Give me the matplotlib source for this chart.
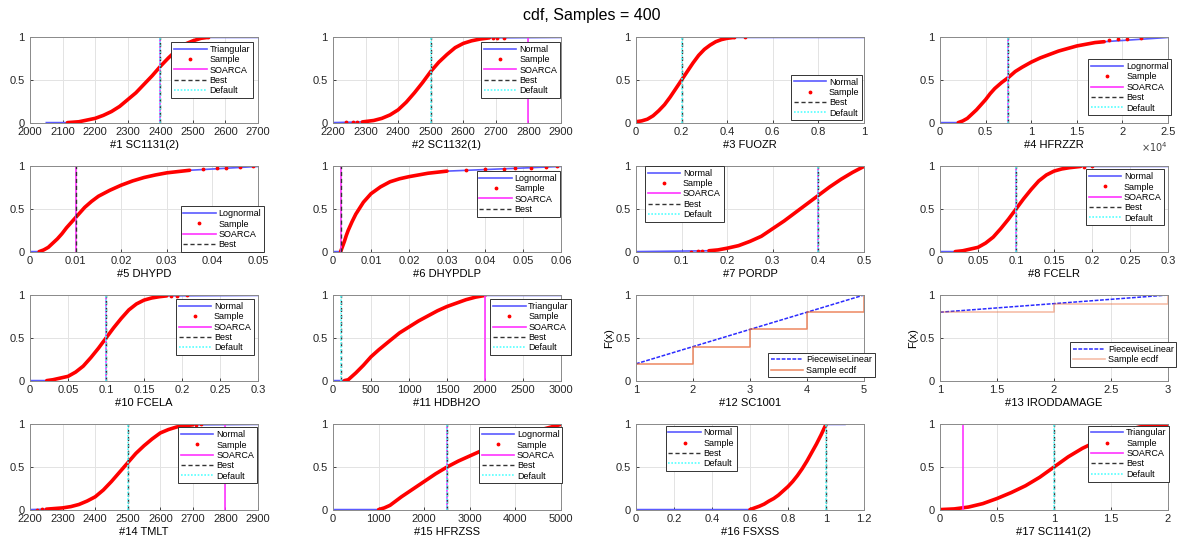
import matplotlib.pyplot as plt
from matplotlib.ticker import FuncFormatter, MultipleLocator

plt.rcParams['font.family'] = ['Liberation Sans', 'DejaVu Sans']

# ---- values ----
# #1 SC1131(2), Triangular
p1_x = [2115, 2150, 2175, 2200, 2225, 2250, 2275, 2300, 2325, 2350, 2375, 2400, 2425, 2450, 2475, 2500, 2525, 2545]
p1_F = [0.0, 0.01, 0.03, 0.05, 0.085, 0.13, 0.19, 0.27, 0.35, 0.45, 0.55, 0.66, 0.76, 0.85, 0.92, 0.96, 0.99, 1.0]
p1_tx, p1_tF = [2115, 2545], [0.0, 1.0]
# #2 SC1132(1), Normal
p2_x = [2290, 2325, 2350, 2375, 2400, 2425, 2450, 2475, 2500, 2525, 2550, 2575, 2600, 2625, 2650, 2680]
p2_F = [0.008, 0.025, 0.05, 0.09, 0.15, 0.24, 0.35, 0.47, 0.6, 0.71, 0.8, 0.88, 0.93, 0.96, 0.98, 0.995]
p2_tx = [2240, 2262, 2275, 2690, 2705, 2725]
p2_tF = [0.002, 0.004, 0.006, 0.997, 0.998, 0.999]
# #3 FUOZR, Normal
p3_x = [0.0, 0.025, 0.05, 0.075, 0.1, 0.125, 0.15, 0.175, 0.2, 0.225, 0.25, 0.275, 0.3, 0.325, 0.35, 0.375, 0.4, 0.43]
p3_F = [0.01, 0.02, 0.04, 0.08, 0.14, 0.21, 0.3, 0.4, 0.5, 0.6, 0.7, 0.79, 0.86, 0.91, 0.95, 0.975, 0.99, 1.0]
p3_tx, p3_tF = [0.43, 0.48], [1.0, 1.0]
# #4 HFRZZR, Lognormal
p4_x = [2000, 2500, 3000, 3500, 4000, 4500, 5000, 5500, 6000, 6750, 7500, 8250, 9000, 10000,
        11000, 12000, 13000, 14000, 15000, 16000, 17000, 18000]
p4_F = [0.0, 0.02, 0.05, 0.1, 0.15, 0.21, 0.27, 0.34, 0.4, 0.47, 0.53, 0.6, 0.65, 0.71,
        0.76, 0.8, 0.84, 0.87, 0.9, 0.92, 0.94, 0.95]
p4_tx = [18500, 19500, 20500, 22000]
p4_tF = [0.975, 0.98, 0.985, 0.99]
# #5 DHYPD, Lognormal
p5_x = [0.002, 0.003, 0.004, 0.005, 0.006, 0.007, 0.008, 0.009, 0.01, 0.011, 0.012, 0.0135,
        0.015, 0.0175, 0.02, 0.0225, 0.025, 0.0275, 0.03, 0.0325, 0.035]
p5_F = [0.0, 0.02, 0.05, 0.1, 0.15, 0.21, 0.28, 0.34, 0.4, 0.46, 0.52, 0.59,
        0.65, 0.72, 0.78, 0.83, 0.87, 0.9, 0.925, 0.94, 0.955]
p5_tx = [0.038, 0.041, 0.043, 0.046, 0.049]
p5_tF = [0.97, 0.98, 0.985, 0.99, 1.0]
# #6 DHYPDLP, Lognormal
p6_x = [0.002, 0.0025, 0.003, 0.0035, 0.004, 0.005, 0.006, 0.007, 0.008, 0.009, 0.01,
        0.0125, 0.015, 0.0175, 0.02, 0.025, 0.03]
p6_F = [0.0, 0.06, 0.12, 0.19, 0.25, 0.35, 0.44, 0.51, 0.58, 0.63, 0.68,
        0.76, 0.82, 0.855, 0.88, 0.92, 0.945]
p6_tx = [0.035, 0.04, 0.045, 0.048, 0.052, 0.056, 0.059]
p6_tF = [0.96, 0.97, 0.975, 0.98, 0.985, 0.99, 1.0]
# #7 PORDP, Normal
p7_x = [0.16, 0.18, 0.2, 0.225, 0.25, 0.275, 0.3, 0.325, 0.35, 0.375, 0.4, 0.425, 0.45, 0.475, 0.5]
p7_F = [0.01, 0.02, 0.04, 0.07, 0.12, 0.18, 0.27, 0.36, 0.46, 0.56, 0.66, 0.76, 0.85, 0.93, 1.0]
p7_tx, p7_tF = [0.12, 0.135, 0.145], [0.0, 0.003, 0.006]
# #8 FCELR, Normal
p8_x = [0.02, 0.03, 0.04, 0.05, 0.06, 0.07, 0.08, 0.09, 0.1, 0.11, 0.12, 0.13, 0.14, 0.15,
        0.16, 0.17, 0.18, 0.185]
p8_F = [0.0, 0.01, 0.03, 0.05, 0.1, 0.17, 0.27, 0.38, 0.5, 0.62, 0.73, 0.83, 0.9, 0.945,
        0.97, 0.985, 0.995, 1.0]
p8_tx, p8_tF = [0.19, 0.2], [0.998, 1.0]
# #10 FCELA, Normal
p10_x = [0.022, 0.03, 0.04, 0.05, 0.06, 0.07, 0.08, 0.09, 0.1, 0.11, 0.12, 0.13, 0.14, 0.15,
         0.16, 0.17, 0.18]
p10_F = [0.0, 0.01, 0.03, 0.05, 0.1, 0.17, 0.27, 0.38, 0.5, 0.62, 0.73, 0.83, 0.9, 0.945,
         0.97, 0.985, 0.995]
p10_tx, p10_tF = [0.185, 0.193, 0.207], [0.998, 0.999, 1.0]
# #11 HDBH2O, Triangular
p11_x = [150, 200, 250, 300, 400, 500, 600, 750, 875, 1000, 1125, 1250, 1375, 1500, 1625, 1750, 1875, 2000]
p11_F = [0.0, 0.01, 0.05, 0.09, 0.18, 0.28, 0.36, 0.47, 0.56, 0.63, 0.7, 0.76, 0.82, 0.87, 0.91, 0.95, 0.98, 1.0]
# #12 SC1001, PiecewiseLinear + ecdf
p12_x = [1, 5]
p12_F = [0.2, 1.0]
p12_ex = [1, 1, 2, 3, 4, 5, 5]
p12_eF = [0.0, 0.2, 0.4, 0.6, 0.8, 1.0, 1.0]
# #13 IRODDAMAGE, PiecewiseLinear + ecdf
p13_x = [1, 3]
p13_F = [0.8, 1.0]
p13_ex = [1, 1, 2, 3, 3]
p13_eF = [0.0, 0.8, 0.9, 1.0, 1.0]
# #14 TMLT, Normal
p14_x = [2250, 2300, 2325, 2350, 2375, 2400, 2425, 2450, 2475, 2500, 2525, 2550, 2575, 2600,
         2625, 2650, 2675, 2700]
p14_F = [0.005, 0.02, 0.035, 0.06, 0.1, 0.15, 0.23, 0.33, 0.44, 0.55, 0.66, 0.75, 0.83, 0.9,
         0.94, 0.97, 0.985, 0.995]
p14_tx = [2222, 2238, 2710, 2725]
p14_tF = [0.001, 0.003, 0.998, 1.0]
# #15 HFRZSS, Lognormal
p15_x = [1000, 1125, 1250, 1375, 1500, 1750, 2000, 2250, 2500, 2750, 3000, 3250, 3500, 3750,
         4000, 4250, 4500, 4750, 5000]
p15_F = [0.0, 0.02, 0.05, 0.1, 0.15, 0.24, 0.33, 0.42, 0.5, 0.57, 0.63, 0.69, 0.75, 0.8,
         0.85, 0.89, 0.93, 0.965, 1.0]
# #16 FSXSS, Normal
p16_x = [0.6, 0.625, 0.65, 0.675, 0.7, 0.725, 0.75, 0.775, 0.8, 0.825, 0.85, 0.875, 0.9,
         0.925, 0.95, 0.975, 1.0]
p16_F = [0.0, 0.02, 0.04, 0.065, 0.1, 0.13, 0.17, 0.22, 0.27, 0.33, 0.4, 0.48, 0.57,
         0.67, 0.77, 0.88, 1.0]
# #17 SC1141(2), Triangular
p17_x = [0.0, 0.125, 0.25, 0.375, 0.5, 0.625, 0.75, 0.875, 1.0, 1.125, 1.25, 1.375, 1.5,
         1.625, 1.75, 1.875, 1.97]
p17_F = [0.0, 0.008, 0.03, 0.07, 0.13, 0.2, 0.28, 0.38, 0.5, 0.62, 0.72, 0.8, 0.87,
         0.93, 0.97, 0.99, 1.0]
p17_tx, p17_tF = [1.97, 2.0], [1.0, 1.0]

# title, dist, x, F, tail x, tail F, xlim, xstep, fit range, soarca, best, default, legend anchor
panels = [
    ('#1 SC1131(2)', 'Triangular', p1_x, p1_F, p1_tx, p1_tF, (2000, 2700), 100, (2050, 2700), 2400, 2400, 2400, (0.62, 0.94)),
    ('#2 SC1132(1)', 'Normal', p2_x, p2_F, p2_tx, p2_tF, (2200, 2900), 100, (2200, 2900), 2800, 2500, 2500, (0.65, 0.94)),
    ('#3 FUOZR', 'Normal', p3_x, p3_F, p3_tx, p3_tF, (0, 1), 0.2, (0, 1), None, 0.2, 0.2, (0.68, 0.56)),
    ('#4 HFRZZR', 'Lognormal', p4_x, p4_F, p4_tx, p4_tF, (0, 25000), 5000, (0, 25000), 7500, 7500, 7500, (0.65, 0.74)),
    ('#5 DHYPD', 'Lognormal', p5_x, p5_F, p5_tx, p5_tF, (0, 0.05), 0.01, (0, 0.05), 0.01, 0.01, None, (0.66, 0.53)),
    ('#6 DHYPDLP', 'Lognormal', p6_x, p6_F, p6_tx, p6_tF, (0, 0.06), 0.01, (0, 0.06), 0.002, 0.002, None, (0.63, 0.94)),
    ('#7 PORDP', 'Normal', p7_x, p7_F, p7_tx, p7_tF, (0, 0.5), 0.1, (0, 0.5), 0.4, 0.4, 0.4, (0.04, 1.0)),
    ('#8 FCELR', 'Normal', p8_x, p8_F, p8_tx, p8_tF, (0, 0.3), 0.05, (0, 0.3), 0.1, 0.1, 0.1, (0.64, 0.96)),
    ('#10 FCELA', 'Normal', p10_x, p10_F, p10_tx, p10_tF, (0, 0.3), 0.05, (0, 0.3), 0.1, 0.1, 0.1, (0.64, 0.95)),
    ('#11 HDBH2O', 'Triangular', p11_x, p11_F, [], [], (0, 3000), 500, (0, 3000), 2000, 100, 100, (0.69, 0.95)),
    ('#12 SC1001', 'ecdf', p12_x, p12_F, p12_ex, p12_eF, (1, 5), 1, None, None, None, None, (0.58, 0.33)),
    ('#13 IRODDAMAGE', 'ecdf', p13_x, p13_F, p13_ex, p13_eF, (1, 3), 0.5, None, None, None, None, (0.57, 0.45)),
    ('#14 TMLT', 'Normal', p14_x, p14_F, p14_tx, p14_tF, (2200, 2900), 100, (2200, 2900), 2800, 2500, 2500, (0.65, 0.96)),
    ('#15 HFRZSS', 'Lognormal', p15_x, p15_F, [], [], (0, 5000), 1000, (0, 5000), 2500, 2500, 2500, (0.64, 0.96)),
    ('#16 FSXSS', 'Normal', p16_x, p16_F, [], [], (0, 1.2), 0.2, (0, 1.1), None, 1.0, 1.0, (0.13, 0.98)),
    ('#17 SC1141(2)', 'Triangular', p17_x, p17_F, p17_tx, p17_tF, (0, 2), 0.5, (0, 2), 0.2, 1.0, 1.0, (0.65, 0.98)),
]

fig = plt.figure(figsize=(11.83, 5.42), dpi=100)
fig.text(0.5, 0.972, 'cdf, Samples = 400', ha='center', va='center', fontsize=11.5)

lefts = [0.0254, 0.2815, 0.5376, 0.7946]
bottoms = [0.773, 0.535, 0.297, 0.059]
w, h = 0.1927, 0.1587

for i, (name, dist, x, F, tx, tF, xlim, xstep, fit, soarca, best, default, anchor) in enumerate(panels):
    ax = fig.add_axes([lefts[i % 4], bottoms[i // 4], w, h])

    if dist == 'ecdf':
        fade = 0.75 if i == 10 else 0.45
        ax.plot(x, F, color='#2b2bff', lw=1.1, ls=(0, (2.5, 1)), label='PiecewiseLinear')
        ax.plot(tx, tF, color='#e8602c', lw=1.1, alpha=fade, drawstyle='steps-post', label='Sample ecdf')
        ax.set_ylabel('F(x)', fontsize=8, labelpad=1)
        ax.set_ylim(0, 1)
    else:
        # fitted cdf, flat at 0 / 1 outside the sampled range
        bx = [fit[0]] + list(x) + [fit[1]]
        bF = [0.0] + list(F) + [1.0]
        ax.plot(bx, bF, color='#5a5aff', lw=1.2, label=dist)
        ax.plot(x, F, color='red', lw=2.6, solid_capstyle='round', solid_joinstyle='round',
                label='_nolegend_')
        ax.plot(tx, tF, ls='none', marker='.', ms=3.5, color='red', label='Sample')
        if soarca is not None:
            ax.axvline(soarca, color='#ff33ff', lw=1.2, label='SOARCA')
        ax.axvline(best, color='#333333', lw=1.0, ls=(0, (3, 2)), label='Best')
        if default is not None:
            ax.axvline(default, color='#55ffff', lw=1.2, ls=(0, (1, 1)), label='Default')
        ax.set_ylim(-0.005, 1.005)

    ax.set_xlim(*xlim)
    ax.xaxis.set_major_locator(MultipleLocator(xstep))
    ax.set_yticks([0, 0.5, 1])
    ax.yaxis.set_major_formatter(FuncFormatter(lambda v, p: '%g' % v))
    if name == '#4 HFRZZR':
        ax.xaxis.set_major_formatter(FuncFormatter(lambda v, p: '%g' % round(v / 1e4, 6)))
        ax.text(1.0, -0.2, r'$\times10^4$', transform=ax.transAxes, ha='right', va='top',
                fontsize=7, color='#404040')
    else:
        ax.xaxis.set_major_formatter(FuncFormatter(lambda v, p: '%g' % round(v, 6)))

    ax.set_xlabel(name, fontsize=8, labelpad=2)
    ax.grid(True, color='#e3e3e3', lw=0.7)
    ax.set_axisbelow(True)
    ax.tick_params(direction='in', length=2.5, width=0.6, labelsize=8, colors='#262626')
    ax.tick_params(axis='y', pad=4)
    ax.tick_params(axis='x', pad=3)
    for s in ax.spines.values():
        s.set_color('#8a8a8a')
        s.set_linewidth(0.7)

    leg = ax.legend(loc='upper left', bbox_to_anchor=anchor, borderaxespad=0, fontsize=6.5,
                    handlelength=3.6, labelspacing=0.15, borderpad=0.3, handletextpad=0.3,
                    fancybox=False, framealpha=1, edgecolor='#333333')
    leg.get_frame().set_linewidth(0.7)

fig.savefig('out.png', dpi=100)
